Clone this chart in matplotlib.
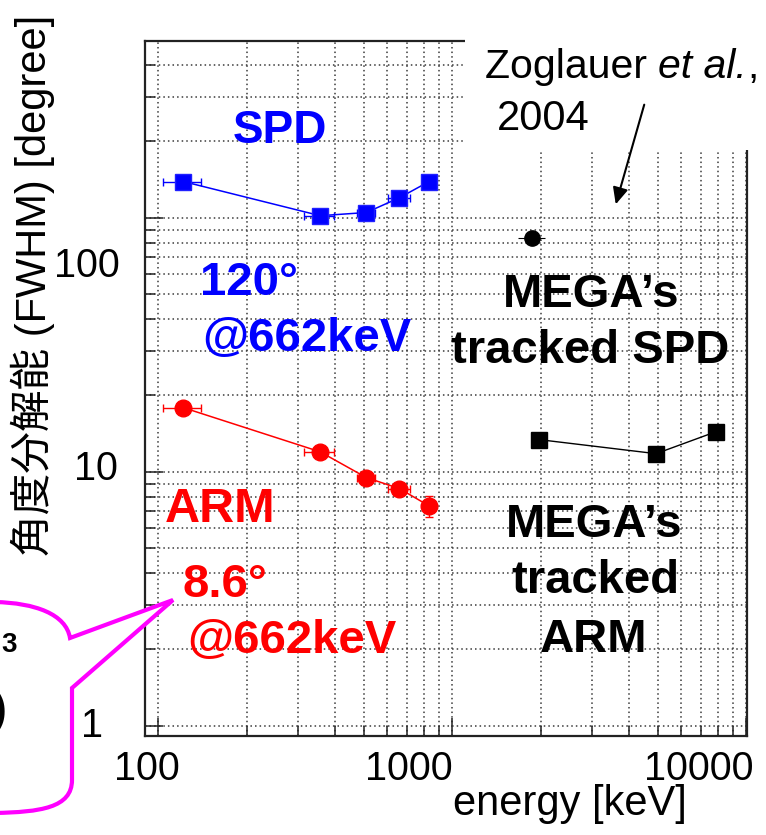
import matplotlib
matplotlib.use("Agg")
import matplotlib.pyplot as plt
from matplotlib.patches import Rectangle, PathPatch, FancyArrowPatch
from matplotlib.path import Path
from matplotlib.transforms import blended_transform_factory, ScaledTranslation
from matplotlib.ticker import LogLocator, NullFormatter, FixedLocator

W, H, DPI = 766, 835, 100
plt.rcParams['font.family'] = ['Liberation Sans', 'Noto Sans CJK JP']

# ---------------- data ----------------
source_energy = [122, 356, 511, 662, 835]        # keV
energy_err = [18, 42, 35, 55, 15]                 # keV
spd_fwhm = [139, 102, 105, 120, 139]              # degree
arm_fwhm = [17.9, 12.0, 9.5, 8.6, 7.35]           # degree
arm_err = [0.5, 0.4, 0.4, 0.3, 0.7]
mega_arm_energy = [1980, 4940, 7900]
mega_arm_fwhm = [13.4, 11.8, 14.4]
mega_spd_energy = [1870]
mega_spd_fwhm = [83]
mega_spd_xerr = [200]
mega_spd_yerr = [3]
x_tick_values = [100, 1000, 10000]
x_tick_labels = ['100', '1000', '10000']
y_tick_values = [1, 10, 100]
y_tick_labels = ['1', '10', '100']

fig = plt.figure(figsize=(W / DPI, H / DPI), dpi=DPI)
fig.patch.set_facecolor('white')


def fx(px):
    return px / W


def fy(py):
    return 1 - py / H


ax = fig.add_axes([fx(145), fy(736), fx(747) - fx(145), fy(41) - fy(736)])
ax.set_xscale('log')
ax.set_yscale('log')
ax.set_xlim(90.3, 10070)
ax.set_ylim(0.913, 497)

ax.xaxis.set_major_locator(FixedLocator(x_tick_values))
ax.yaxis.set_major_locator(FixedLocator(y_tick_values))
ax.xaxis.set_minor_locator(LogLocator(base=10, subs=range(2, 10), numticks=20))
ax.yaxis.set_minor_locator(LogLocator(base=10, subs=range(2, 10), numticks=20))
ax.xaxis.set_minor_formatter(NullFormatter())
ax.yaxis.set_minor_formatter(NullFormatter())
ax.tick_params(which='both', direction='in', labelbottom=False, labelleft=False,
               color='#222222', width=1.1)
ax.tick_params(which='major', length=13)
ax.tick_params(which='minor', length=7)
ax.grid(which='both', linestyle=(0, (1, 2)), linewidth=1.1, color='#3a3a3a')
ax.set_axisbelow(True)
for s in ax.spines.values():
    s.set_linewidth(1.6)
    s.set_color('#222222')

# series
ax.errorbar(source_energy, spd_fwhm, xerr=energy_err, fmt='-s', color='#0000FF',
            ms=11, lw=1.1, elinewidth=1.0, capsize=3, mec='#2020FF', zorder=3)
ax.errorbar(source_energy, arm_fwhm, xerr=energy_err, yerr=arm_err, fmt='-o',
            color='#FF0000', ms=12, lw=1.1, elinewidth=1.0, capsize=3, zorder=3)
ax.plot(mega_arm_energy, mega_arm_fwhm, '-s', color='black', ms=11, lw=1.0, zorder=3)
ax.errorbar(mega_spd_energy, mega_spd_fwhm, xerr=mega_spd_xerr, yerr=mega_spd_yerr,
            fmt='o', color='black', ms=11, elinewidth=0.8, zorder=3)

# tick labels (placed like the original slide)
bx = blended_transform_factory(ax.transData, ax.transAxes)
x_dx = [22, 1, 7]
for v, lab, dx in zip(x_tick_values, x_tick_labels, x_dx):
    ax.text(v, 0, lab, transform=bx + ScaledTranslation(dx / DPI, -44 / DPI, fig.dpi_scale_trans),
            ha='right', va='baseline', fontsize=28.5, color='black', clip_on=False)
by = blended_transform_factory(ax.transAxes, ax.transData)
y_dx = [-42, -27, -25]
y_dy = [-11, -8, -59]
for v, lab, dx, dy in zip(y_tick_values, y_tick_labels, y_dx, y_dy):
    ax.text(0, v, lab, transform=by + ScaledTranslation(dx / DPI, dy / DPI, fig.dpi_scale_trans),
            ha='right', va='baseline', fontsize=28.5, color='black', clip_on=False)

# white box hiding upper right part of the frame
fig.add_artist(Rectangle((fx(465), fy(150)), fx(766) - fx(465), fy(0) - fy(150),
                         transform=fig.transFigure, facecolor='white', edgecolor='none', zorder=5))

# axis titles
fig.text(fx(33), fy(285), '角度分解能 (FWHM) [degree]', rotation=90, ha='center', va='center',
         fontsize=30, color='black', zorder=6)
fig.text(fx(453), fy(815), 'energy [keV]', ha='left', va='baseline', fontsize=30, zorder=6)

# annotations
bold = dict(fontweight='bold', va='baseline', zorder=6)
fig.text(fx(280), fy(143), 'SPD', ha='center', fontsize=33, color='#0000FF', **bold)
fig.text(fx(200), fy(295), '120°', ha='left', fontsize=34, color='#0000FF', **bold)
fig.text(fx(202), fy(351), '@662keV', ha='left', fontsize=34, color='#0000FF', **bold)
fig.text(fx(165), fy(522), 'ARM', ha='left', fontsize=35, color='#FF0000', **bold)
fig.text(fx(182), fy(597), '8.6°', ha='left', fontsize=34, color='#FF0000', **bold)
fig.text(fx(187), fy(653), '@662keV', ha='left', fontsize=34, color='#FF0000', **bold)
fig.text(fx(591), fy(307), 'MEGA’s', ha='center', fontsize=34, color='black', **bold)
fig.text(fx(590), fy(363), 'tracked SPD', ha='center', fontsize=34, color='black', **bold)
fig.text(fx(594), fy(537), 'MEGA’s', ha='center', fontsize=34, color='black', **bold)
fig.text(fx(595), fy(593), 'tracked', ha='center', fontsize=34, color='black', **bold)
fig.text(fx(594), fy(652), 'ARM', ha='center', fontsize=34, color='black', **bold)

zfs = 29.5
t1 = fig.text(fx(485), fy(78), 'Zoglauer ', ha='left', va='baseline', fontsize=zfs, zorder=6)
fig.canvas.draw()
bb = t1.get_window_extent()
t2 = fig.text(bb.x1 / W, fy(78), 'et al.', ha='left', va='baseline', fontsize=zfs,
              style='italic', zorder=6)
fig.canvas.draw()
bb2 = t2.get_window_extent()
fig.text(bb2.x1 / W, fy(78), ',', ha='left', va='baseline', fontsize=zfs, zorder=6)
fig.text(fx(497), fy(130), '2004', ha='left', va='baseline', fontsize=30, zorder=6)

fig.add_artist(FancyArrowPatch((fx(645), fy(102)), (fx(615), fy(207)),
                               transform=fig.transFigure,
                               arrowstyle='-|>,head_length=0.5,head_width=0.23',
                               mutation_scale=20, lw=1.5, color='black', zorder=6))

# speech bubble (partly outside the slide crop)
P = lambda x, y: (fx(x), fy(y))
verts = [P(-5, 602), P(35, 603), P(66, 614), P(70, 638),
         P(173, 600), P(72, 688), P(72, 780),
         P(72, 808), P(40, 812), P(-5, 813), P(-5, 602)]
codes = [Path.MOVETO, Path.CURVE4, Path.CURVE4, Path.CURVE4,
         Path.LINETO, Path.LINETO, Path.LINETO,
         Path.CURVE4, Path.CURVE4, Path.CURVE4, Path.CLOSEPOLY]
fig.add_artist(PathPatch(Path(verts, codes), transform=fig.transFigure,
                         facecolor='white', edgecolor='#FF00FF', lw=3, zorder=7))
fig.text(fx(1), fy(652), '3', ha='left', va='baseline', fontsize=20, fontweight='bold', zorder=8)
fig.text(fx(7), fy(723), ')', ha='right', va='baseline', fontsize=32, fontweight='bold', zorder=8)

fig.savefig('out.png', dpi=DPI, facecolor='white')
